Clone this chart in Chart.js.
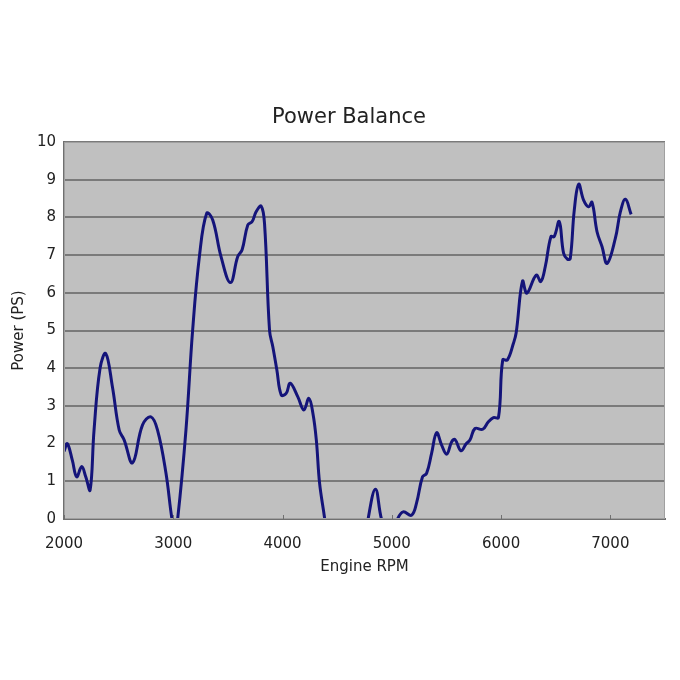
<!DOCTYPE html>
<html>
<head>
<meta charset="utf-8">
<script src="https://cdn.jsdelivr.net/npm/chart.js@4/dist/chart.umd.min.js"></script>
<style>
  html, body { margin: 0; padding: 0; background: #fff; }
  #wrap { width: 680px; height: 680px; }
</style>
</head>
<body>
<div id="wrap"><canvas id="powerChart" width="680" height="680"></canvas></div>
<script>
// engine speed (rpm) and power (PS)
const rpm = [2000, 2030, 2076, 2116, 2162, 2199, 2239, 2275, 2330, 2382, 2443, 2505, 2550, 2627, 2718, 2795, 2856, 2933, 2988, 3015, 3040, 3116, 3177, 3239, 3306, 3361, 3437, 3523, 3590, 3630, 3682, 3722, 3758, 3804, 3835, 3881, 3911, 3948, 3988, 4033, 4070, 4140, 4195, 4241, 4278, 4309, 4339, 4385, 4450, 4600, 4720, 4783, 4850, 4905, 4980, 5052, 5104, 5180, 5226, 5281, 5318, 5364, 5410, 5456, 5502, 5548, 5578, 5633, 5679, 5716, 5761, 5832, 5884, 5930, 5976, 6015, 6058, 6113, 6138, 6196, 6236, 6321, 6364, 6404, 6456, 6486, 6532, 6572, 6608, 6633, 6670, 6710, 6755, 6801, 6832, 6878, 6924, 6970, 7046, 7092, 7138, 7190];
const power = [1.79, 2.0, 1.56, 1.12, 1.39, 1.12, 0.77, 2.36, 4.0, 4.39, 3.51, 2.36, 2.1, 1.49, 2.49, 2.71, 2.36, 1.22, 0, -0.3, 0, 2.36, 5.0, 6.96, 8.11, 7.93, 6.96, 6.27, 6.96, 7.14, 7.8, 7.89, 8.15, 8.3, 7.84, 5.0, 4.57, 3.95, 3.29, 3.33, 3.6, 3.24, 2.89, 3.2, 2.8, 2.1, 0.95, 0.02, -1.5, -2.5, -1.2, 0, 0.79, 0, -0.6, 0, 0.19, 0.1, 0.42, 1.12, 1.21, 1.74, 2.29, 1.96, 1.72, 2.05, 2.11, 1.81, 1.99, 2.1, 2.4, 2.38, 2.58, 2.69, 2.69, 4.22, 4.22, 4.66, 4.94, 6.31, 5.99, 6.47, 6.3, 6.69, 7.49, 7.49, 7.89, 7.05, 6.89, 6.91, 8.2, 8.88, 8.46, 8.28, 8.4, 7.62, 7.22, 6.78, 7.45, 8.15, 8.48, 8.08];
const xTicks = [2000, 3000, 4000, 5000, 6000, 7000];
const chartTitle = 'Power Balance';

const FONT = '"DejaVu Sans", Verdana, sans-serif';
const TEXT = '#222';

// grey plot background, border, small upward tick marks and the title
const plotArea = {
  id: 'plotArea',
  beforeDraw(chart) {
    const { ctx, chartArea: a } = chart;
    ctx.save();
    ctx.fillStyle = '#c0c0c0';
    ctx.fillRect(a.left, a.top, a.right - a.left, a.bottom - a.top);
    ctx.restore();
  },
  afterDraw(chart) {
    const { ctx, chartArea: a, scales } = chart;
    ctx.save();
    ctx.strokeStyle = '#a0a0a0';
    ctx.lineWidth = 1;
    ctx.strokeRect(a.left + 0.5, a.top + 0.5, a.right - a.left - 1, a.bottom - a.top - 1);
    ctx.strokeStyle = '#707070';
    ctx.beginPath();
    xTicks.forEach(v => {
      const x = Math.round(scales.x.getPixelForValue(v)) + 0.5;
      ctx.moveTo(x, a.bottom);
      ctx.lineTo(x, a.bottom - 4);
    });
    ctx.stroke();
    // title sits a little right of the canvas centre in the original
    ctx.fillStyle = TEXT;
    ctx.font = '21px ' + FONT;
    ctx.textAlign = 'center';
    ctx.textBaseline = 'middle';
    ctx.fillText(chartTitle, 349, 118);
    ctx.restore();
  }
};

new Chart(document.getElementById('powerChart'), {
  type: 'line',
  data: {
    datasets: [{
      data: rpm.map((r, i) => ({ x: r, y: power[i] })),
      borderColor: '#14147a',
      borderWidth: 3,
      pointRadius: 0,
      tension: 0.4,
      fill: false,
      clip: 0
    }]
  },
  options: {
    responsive: false,
    animation: false,
    layout: { padding: { top: 142, right: 15, bottom: 100, left: 0 } },
    plugins: {
      legend: { display: false },
      tooltip: { enabled: false },
      title: { display: false }
    },
    scales: {
      x: {
        type: 'linear',
        min: 2000,
        max: 7500,
        afterFit: s => { s.height = 61; },
        afterBuildTicks: s => { s.ticks = xTicks.map(v => ({ value: v })); },
        grid: { display: false },
        border: { display: true, color: '#707070', width: 2 },
        ticks: {
          color: TEXT,
          font: { family: FONT, size: 15 },
          padding: 8,
          maxRotation: 0,
          callback: v => String(v)
        },
        title: {
          display: true,
          text: 'Engine RPM',
          color: TEXT,
          font: { family: FONT, size: 15 },
          padding: { top: 0, bottom: 4 }
        }
      },
      y: {
        min: 0,
        max: 10,
        afterFit: s => { s.width = 64; },
        grid: { color: '#7a7a7a', lineWidth: 2, drawTicks: false },
        border: { display: true, color: '#707070', width: 2 },
        ticks: { stepSize: 1, color: TEXT, font: { family: FONT, size: 15 }, padding: 8 },
        title: {
          display: true,
          text: 'Power (PS)',
          color: TEXT,
          font: { family: FONT, size: 15 },
          padding: { top: 10, bottom: 0 }
        }
      }
    }
  },
  plugins: [plotArea]
});
</script>
</body>
</html>
